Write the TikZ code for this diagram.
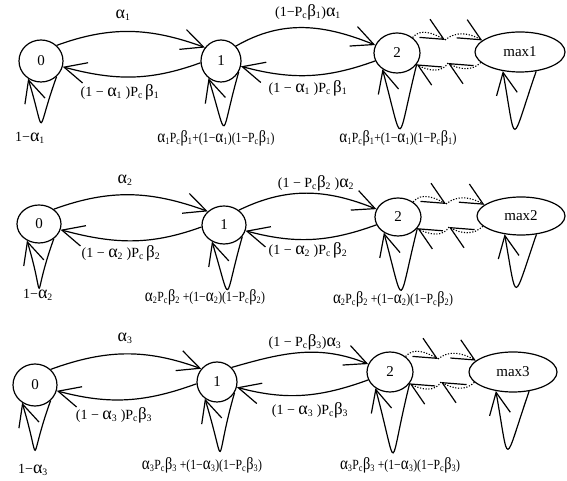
\documentclass[tikz,border=0pt]{standalone}
\usepackage{fontspec}
\setmainfont{Liberation Serif}
\usetikzlibrary{arrows.meta,shapes.geometric,calc}
\newcommand\sbs[1]{\textsubscript{#1}}
\newcommand\ga{{\fontsize{18}{16}\selectfont α}}
\newcommand\gb{{\fontsize{17}{16}\selectfont β}}
\begin{document}
\begin{tikzpicture}[x=1pt,y=1pt,
  st/.style={draw, ellipse, line width=1.2pt, inner sep=0pt, font=\fontsize{15}{15}\selectfont},
  lab/.style={font=\fontsize{14}{14}\selectfont, inner sep=0pt},
  arr/.style={line width=1.2pt, -{Straight Barb[length=22pt,width=21pt,line width=1.2pt]}},
  dotarr/.style={line width=1.1pt, dash pattern=on 1.2pt off 1.6pt, -{Straight Barb[length=22pt,width=21pt,line width=1.2pt]}},
  ]
\useasboundingbox (0,0) rectangle (567,481);
% row 1
\node[st, minimum width=44pt, minimum height=42pt] (a0) at (41,420) {0};
\node[st, minimum width=40pt, minimum height=42pt] (a1) at (221,420) {1};
\node[st, minimum width=46pt, minimum height=40pt] (a2) at (397,428) {2};
\node[st, minimum width=90pt, minimum height=40pt] (am) at (520,429) {max1};
% row 2
\node[st, minimum width=44pt, minimum height=38pt] (b0) at (39,257) {0};
\node[st, minimum width=44pt, minimum height=38pt] (b1) at (224,256) {1};
\node[st, minimum width=46pt, minimum height=38pt] (b2) at (398,264) {2};
\node[st, minimum width=88pt, minimum height=38pt] (bm) at (521,265) {max2};
% row 3
\node[st, minimum width=44pt, minimum height=42pt] (c0) at (35,96) {0};
\node[st, minimum width=40pt, minimum height=40pt] (c1) at (217,99) {1};
\node[st, minimum width=46pt, minimum height=40pt] (c2) at (390,109) {2};
\node[st, minimum width=88pt, minimum height=40pt] (cm) at (513,109) {max3};

\foreach \r/\up in {a/30,b/26,c/16}{
  \draw[arr] (\r0.45) to[out=20,in=160] (\r1.140);
  \draw[arr] (\r1.185) to[out=200,in=-15] (\r0.-15);
  \draw[arr] (\r1.45) to[out=\up,in=158] (\r2.160);
  \draw[arr] (\r2.200) to[out=200,in=-15] (\r1.-15);
  \coordinate (\r t) at ([shift={(48,13)}]\r2.center);
  \coordinate (\r b) at ([shift={(51,-10)}]\r2.center);
  \draw[dotarr] (\r2.45) to[out=50,in=150] (\r t);
  \draw[dotarr] (\r t) to[out=40,in=150] (\r m.163);
  \draw[dotarr] (\r m.195) to[out=-135,in=-30] (\r b);
  \draw[dotarr] (\r b) to[out=-120,in=-30] (\r2.-30);
}
% loops
\draw[arr] (a0.-45) .. controls +(-110:63) and +(-73:63) .. (a0.-126);
\draw[arr] (a1.-32) .. controls +(-106:70) and +(-73:70) .. (a1.-126);
\draw[arr] (a2.-30) .. controls +(-104:85) and +(-75:85) .. (a2.-132);
\draw[arr] (am.-50) .. controls +(-109:80) and +(-80:80) .. (am.-132);
\draw[arr] (b0.-45) .. controls +(-110:68) and +(-73:68) .. (b0.-126);
\draw[arr] (b1.-32) .. controls +(-106:70) and +(-73:70) .. (b1.-126);
\draw[arr] (b2.-30) .. controls +(-104:82) and +(-75:82) .. (b2.-132);
\draw[arr] (bm.-50) .. controls +(-109:73) and +(-80:73) .. (bm.-132);
\draw[arr] (c0.-45) .. controls +(-110:68) and +(-73:68) .. (c0.-126);
\draw[arr] (c1.-32) .. controls +(-106:77) and +(-73:77) .. (c1.-126);
\draw[arr] (c2.-30) .. controls +(-104:92) and +(-75:92) .. (c2.-132);
\draw[arr] (cm.-50) .. controls +(-109:80) and +(-80:80) .. (cm.-132);

% labels row 1
\node[lab] (la1) at (123,466) {\ga\sbs{1}};
\node[lab] (la2) at (120,389) {(1 − \ga\sbs{1} )P\sbs{c}\,\gb\sbs{1}};
\node[lab] (la3) at (30,343) {1−\ga\sbs{1}};
\node[lab] (la4) at (216,343) {\scalebox{0.84}[1]{\ga\sbs{1}P\sbs{c}\gb\sbs{1}+(1−\ga\sbs{1})(1−P\sbs{c}\gb\sbs{1})}};
\node[lab] (la5) at (308,469) {(1−P\sbs{c}\gb\sbs{1})\ga\sbs{1}};
\node[lab] (la6) at (308,393) {(1 − \ga\sbs{1} )P\sbs{c}\,\gb\sbs{1}};
\node[lab] (la7) at (398,343) {\scalebox{0.84}[1]{\ga\sbs{1}P\sbs{c}\gb\sbs{1}+(1−\ga\sbs{1})(1−P\sbs{c}\gb\sbs{1})}};
% labels row 2
\node[lab] (lb1) at (125,301) {\ga\sbs{2}};
\node[lab] (lb2) at (121,228) {(1 − \ga\sbs{2} )P\sbs{c}\,\gb\sbs{2}};
\node[lab] (lb3) at (38,186) {1−\ga\sbs{2}};
\node[lab] (lb4) at (205,184) {\scalebox{0.84}[1]{\ga\sbs{2}P\sbs{c}\gb\sbs{2} +(1−\ga\sbs{2})(1−P\sbs{c}\gb\sbs{2})}};
\node[lab] (lb5) at (316,298) {(1 − P\sbs{c}\gb\sbs{2} )\ga\sbs{2}};
\node[lab] (lb6) at (308,231) {(1 − \ga\sbs{2} )P\sbs{c}\,\gb\sbs{2}};
\node[lab] (lb7) at (393,182) {\scalebox{0.84}[1]{\ga\sbs{2}P\sbs{c}\gb\sbs{2} +(1−\ga\sbs{2})(1−P\sbs{c}\gb\sbs{2})}};
% labels row 3
\node[lab] (lc1) at (125,143) {\ga\sbs{3}};
\node[lab] (lc2) at (114,66) {(1 − \ga\sbs{3} )P\sbs{c}\gb\sbs{3}};
\node[lab] (lc3) at (33,11) {1−\ga\sbs{3}};
\node[lab] (lc4) at (202,16) {\scalebox{0.84}[1]{\ga\sbs{3}P\sbs{c}\gb\sbs{3} +(1−\ga\sbs{3})(1−P\sbs{c}\gb\sbs{3})}};
\node[lab] (lc5) at (305,139) {(1 − P\sbs{c}\gb\sbs{3})\ga\sbs{3}};
\node[lab] (lc6) at (310,71) {(1 − \ga\sbs{3} )P\sbs{c}\gb\sbs{3}};
\node[lab] (lc7) at (400,16) {\scalebox{0.84}[1]{\ga\sbs{3}P\sbs{c}\gb\sbs{3} +(1−\ga\sbs{3})(1−P\sbs{c}\gb\sbs{3})}};
\end{tikzpicture}
\end{document}
